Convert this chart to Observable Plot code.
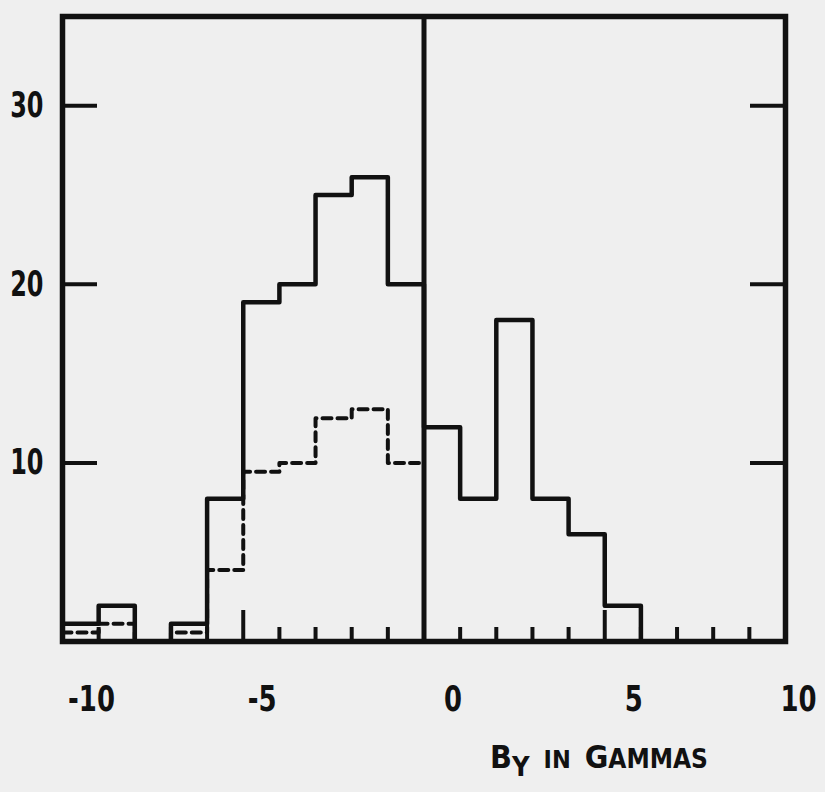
<!DOCTYPE html>
<html>
<head>
<meta charset="utf-8">
<script src="https://cdn.jsdelivr.net/npm/d3@7"></script>
<script src="https://cdn.jsdelivr.net/npm/@observablehq/plot@0.6"></script>
<style>
  html, body { margin: 0; padding: 0; background: #efefef; }
  #chart svg { display: block; }
</style>
</head>
<body>
<div id="chart"></div>
<script>
// ---- data ----
const binStarts    = [-10, -9, -8, -7, -6, -5, -4, -3, -2, -1, 0, 1, 2, 3, 4, 5, 6, 7, 8, 9];
const solidCounts  = [1, 2, 0, 1, 8, 19, 20, 25, 26, 20, 12, 8, 18, 8, 6, 2, 0, 0, 0, 0];
const dashedStarts = [-10, -9, -8, -7, -6, -5, -4, -3, -2, -1];
const dashedCounts = [0.5, 1, 0, 0.5, 4, 9.5, 10, 12.5, 13, 10];
const xTickLabelsA = [-10, 0, 5];   // labels lettered further right of their tick
const xTickLabelsB = [-5];
const xTickLabelsC = [10];
const yTickLabels  = [10, 20, 30];
const minorTicks   = [-9, -8, -7, -6, -4, -3, -2, -1, 1, 2, 3, 4, 6, 7, 8, 9];
const majorTicks   = [-5, 5];
const dividerAt    = [0];
const binWidth     = 1;

// step-after series: one point per bin start, plus the closing edge of the last bin
function steps(starts, counts) {
  const pts = starts.map((s, i) => ({x: s, y: counts[i]}));
  pts.push({x: starts[starts.length - 1] + binWidth, y: counts[counts.length - 1]});
  return pts;
}
const solidSteps  = steps(binStarts, solidCounts);
const dashedSteps = steps(dashedStarts, dashedCounts);

const ink = "#111";
const font = "'DejaVu Sans Condensed', 'DejaVu Sans', sans-serif";

const W = 825, H = 792;
const mL = 62, mR = 40, mT = 16, mB = 151;
const innerW = W - mL - mR, innerH = H - mT - mB;

const xLabelStyle = {anchor: "bottom", tickSize: 0, tickPadding: 44, fontSize: 36, fontWeight: "bold", label: null, tickFormat: d => String(d), className: "xlab"};

const chart = Plot.plot({
  width: W,
  height: H,
  marginLeft: mL,
  marginRight: mR,
  marginTop: mT,
  marginBottom: mB,
  style: {background: "transparent", fontFamily: font, color: ink},
  x: {domain: [-10, 10]},
  y: {domain: [0, 35]},
  marks: [
    // inward ticks on the bottom edge
    Plot.tickX(minorTicks, {stroke: ink, strokeWidth: 4, insetTop: innerH - 14}),
    Plot.tickX(majorTicks, {stroke: ink, strokeWidth: 4, insetTop: innerH - 31}),
    // inward ticks on left and right edges
    Plot.tickY(yTickLabels, {stroke: ink, strokeWidth: 4, insetRight: innerW - 35}),
    Plot.tickY(yTickLabels, {stroke: ink, strokeWidth: 4, insetLeft: innerW - 35}),
    // histograms
    Plot.lineY(dashedSteps, {x: "x", y: "y", curve: "step-after", stroke: ink, strokeWidth: 4, strokeDasharray: "9,6"}),
    Plot.lineY(solidSteps, {x: "x", y: "y", curve: "step-after", stroke: ink, strokeWidth: 4.5}),
    // frame and divider
    Plot.ruleX(dividerAt, {stroke: ink, strokeWidth: 5}),
    Plot.frame({stroke: ink, strokeWidth: 5.5}),
    // tick labels
    Plot.axisY(yTickLabels, {anchor: "left", tickSize: 0, tickPadding: 19, fontSize: 35, fontWeight: "bold", label: null, tickFormat: d => String(d), className: "ylab"}),
    Plot.axisX(xTickLabelsA, {...xLabelStyle, dx: 29}),
    Plot.axisX(xTickLabelsB, {...xLabelStyle, dx: 19}),
    Plot.axisX(xTickLabelsC, {...xLabelStyle, dx: 13})
  ]
});

document.getElementById("chart").appendChild(chart);

// narrow the lettering like the stencil lettering of the original
const svg = d3.select(chart);
function narrow(selector, factor) {
  svg.selectAll(selector).each(function() {
    const len = this.getComputedTextLength();
    if (len > 0) {
      this.setAttribute("textLength", (len * factor).toFixed(1));
      this.setAttribute("lengthAdjust", "spacingAndGlyphs");
    }
  });
}
narrow(".ylab text", 0.76);
narrow(".xlab text", 0.8);

// axis title: "B_Y in Gammas" in small capitals
const t = svg.append("text")
  .attr("x", 490).attr("y", 768)
  .attr("text-anchor", "start")
  .attr("fill", ink)
  .attr("font-family", font)
  .attr("font-weight", "bold");
t.append("tspan").attr("font-size", 32).text("B");
t.append("tspan").attr("font-size", 27).attr("dy", 8).text("Y");
t.append("tspan").attr("font-size", 25).attr("dy", -8).attr("dx", 14).text("IN");
t.append("tspan").attr("font-size", 32).attr("dx", 14).text("G");
t.append("tspan").attr("font-size", 26).text("AMMAS");
</script>
</body>
</html>
